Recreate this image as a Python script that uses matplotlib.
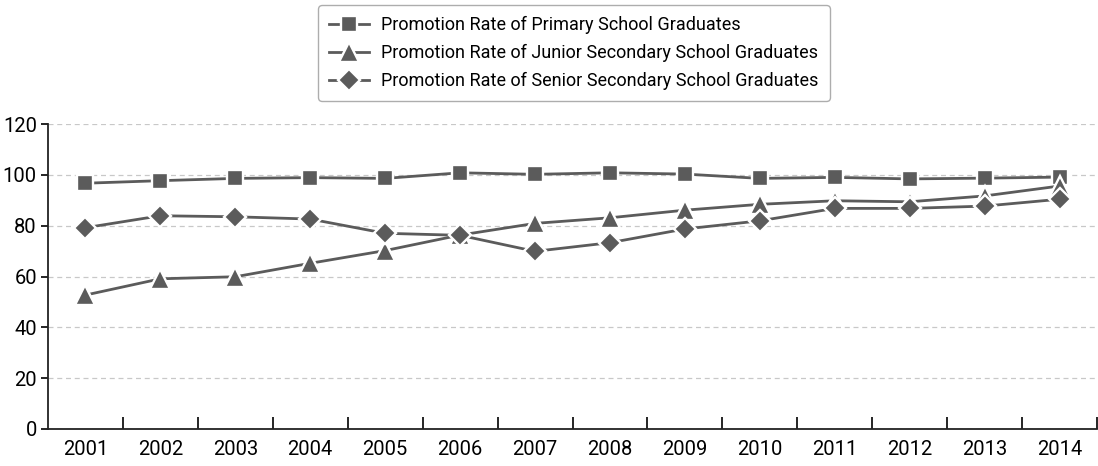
import matplotlib
matplotlib.use("Agg")
import matplotlib.pyplot as plt
from matplotlib.ticker import FixedLocator, NullFormatter

plt.rcParams['font.family'] = ['Roboto', 'DejaVu Sans']

years = ['2001', '2002', '2003', '2004', '2005', '2006', '2007',
         '2008', '2009', '2010', '2011', '2012', '2013', '2014']
primary = [96.7, 97.7, 98.6, 98.9, 98.6, 100.8, 100.2,
           100.8, 100.3, 98.6, 99.0, 98.4, 98.7, 99.1]
junior = [52.7, 59.1, 59.9, 65.2, 70.2, 76.3, 80.9,
          83.1, 86.1, 88.4, 89.8, 89.4, 91.7, 95.6]
senior = [79.2, 83.9, 83.5, 82.6, 77.0, 76.2, 69.9,
          73.3, 78.7, 81.9, 86.8, 86.8, 87.7, 90.4]
labels = ['Promotion Rate of Primary School Graduates',
          'Promotion Rate of Junior Secondary School Graduates',
          'Promotion Rate of Senior Secondary School Graduates']

color = '#5b5b5b'
fig = plt.figure(figsize=(10.98, 4.66), dpi=100)
ax = fig.add_axes([48 / 1098, 37 / 466, 1049 / 1098, 305 / 466])

x = list(range(len(years)))
series = [(primary, 's', 12), (junior, '^', 14), (senior, 'D', 11)]
handles = []
for vals, mk, ms in series:
    h, = ax.plot(x, vals, color=color, lw=2, marker=mk, markersize=ms,
                 markerfacecolor=color, markeredgecolor='white',
                 markeredgewidth=1.7, zorder=3)
    handles.append(h)

ax.set_xlim(-0.5, len(years) - 0.5)
ax.set_ylim(0, 120)
ax.set_yticks(range(0, 121, 20))
ax.yaxis.grid(True, linestyle=(0, (4, 3)), color='#c8c8c8', lw=0.9)
ax.set_axisbelow(True)

ax.set_xticks(x)
ax.set_xticklabels(years)
ax.xaxis.set_minor_locator(FixedLocator([i + 0.5 for i in range(len(years))]))
ax.xaxis.set_minor_formatter(NullFormatter())
ax.tick_params(axis='x', which='major', length=0, pad=8, labelsize=14.5)
ax.tick_params(axis='x', which='minor', direction='in', length=9, width=1.2)
ax.tick_params(axis='y', which='major', direction='out', length=5, width=1.2,
               labelsize=14.5, pad=3)

for s in ('top', 'right'):
    ax.spines[s].set_visible(False)
for s in ('left', 'bottom'):
    ax.spines[s].set_linewidth(1.3)
    ax.spines[s].set_color('#222222')

leg = fig.legend(handles, labels, loc='upper center',
                 bbox_to_anchor=(574 / 1098, 1 + 4 / 466),
                 fontsize=13, frameon=True, fancybox=True,
                 edgecolor='#999999', handlelength=2.2, labelspacing=0.55,
                 borderpad=0.6, handletextpad=0.7)
leg.get_frame().set_linewidth(1.0)

fig.savefig('out.png', dpi=100)
